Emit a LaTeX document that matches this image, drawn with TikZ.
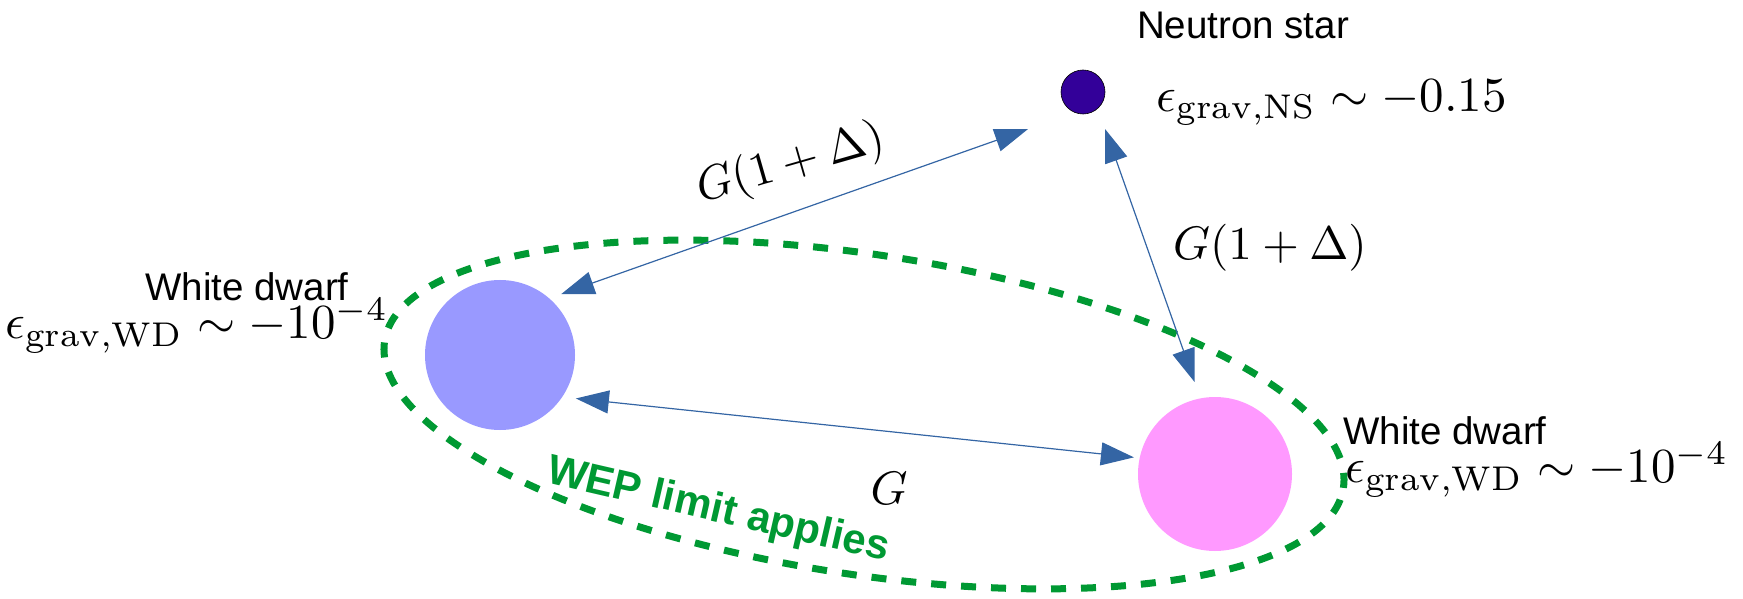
\documentclass[tikz,border=0pt]{standalone}
\usepackage{amsmath,amssymb}
\usepackage{fontspec}
\newfontfamily\lbfont{Liberation Sans}
\usepackage{xcolor}
\usetikzlibrary{arrows.meta}
\definecolor{nsfill}{HTML}{330099}
\definecolor{wdlfill}{HTML}{9999FF}
\definecolor{wdrfill}{HTML}{FF99FF}
\definecolor{arrblue}{HTML}{3465A4}
\definecolor{wepgreen}{HTML}{009933}

\begin{document}
\begin{tikzpicture}[x=1pt, y=1pt, every node/.style={inner sep=0pt}, body/.style={circle,minimum size=#1,inner sep=0pt}, lbl/.style={font=\lbfont\fontsize{38.5}{46}\selectfont}, eq/.style={font=\normalsize,scale=#1}, arr/.style={{Triangle[length=33pt,width=23pt]}-{Triangle[length=33pt,width=23pt]},draw=arrblue,line width=1.2pt}, wep/.style={draw=wepgreen,line width=7pt,dash pattern=on 15pt off 15pt}]
\useasboundingbox (0,0) rectangle (1743,598);
\draw[wep,rotate around={-8.7:(864,183.5)}] (864,183.5) ellipse [x radius=485,y radius=160];
\node[body=44pt,fill=nsfill,draw=black,line width=0.6pt] (ns) at (1083,506) {};
\node[body=150pt,fill=wdlfill] (wdl) at (500,243) {};
\node[body=154pt,fill=wdrfill] (wdr) at (1215,124) {};
\node[lbl] (nsname) at (1243,573) {Neutron star};
\node[eq=4.9,anchor=west] (nseps) at (1156,495) {$\epsilon_{\mathrm{grav,NS}}\sim -0.15$};
\node[lbl] (wdlname) at (247,311) {White dwarf};
\node[eq=4.9] (wdleps) at (197,272) {$\epsilon_{\mathrm{grav,WD}}\sim -10^{-4}$};
\node[lbl] (wdrname) at (1445,167) {White dwarf};
\node[eq=4.9] (wdreps) at (1537,128) {$\epsilon_{\mathrm{grav,WD}}\sim -10^{-4}$};
\draw[arr,shorten <=12.7pt,shorten >=49.7pt] (wdl.49) -- (ns.248);
\draw[arr,shorten <=21.9pt,shorten >=17.3pt] (ns.312) -- (wdr.101);
\draw[arr,shorten <=13.6pt,shorten >=5.6pt] (wdl.326) -- (wdr.168);
\node[eq=4.7,rotate=16] (gtop) at (791,433) {$G(1+\Delta)$};
\node[eq=4.7] (gright) at (1270,350) {$G(1+\Delta)$};
\node[eq=4.7] (gbot) at (889,110) {$G$};
\node[lbl,font=\lbfont\bfseries\fontsize{42}{50}\selectfont,text=wepgreen,rotate=-13] (weplbl) at (718,87) {WEP limit applies};
\end{tikzpicture}
\end{document}
